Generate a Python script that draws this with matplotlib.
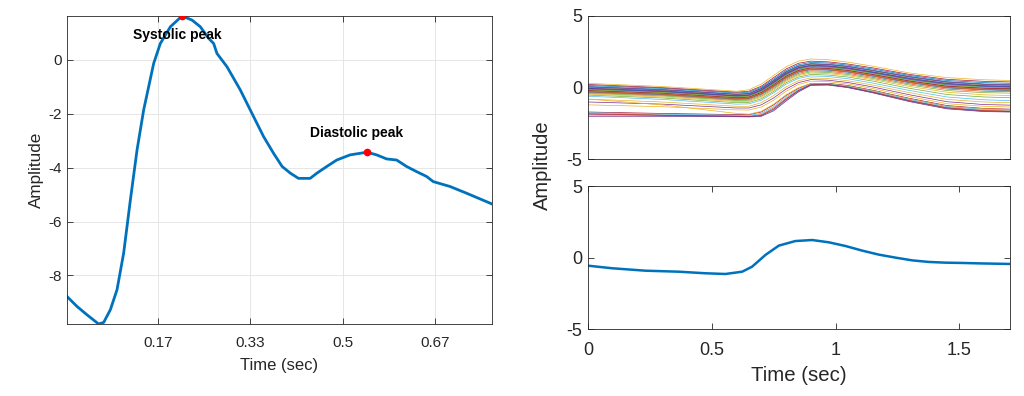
import matplotlib
matplotlib.use("Agg")
import matplotlib.pyplot as plt

plt.rcParams['font.family'] = ['Liberation Sans', 'DejaVu Sans']

# ---------------- Left panel: single pulse ----------------
pulse_t = [0.0025, 0.0206, 0.0386, 0.0596, 0.0687, 0.0807, 0.0927, 0.1047, 0.1168,
           0.1288, 0.1408, 0.1588, 0.1708, 0.1889, 0.2099, 0.2279, 0.2430, 0.2580,
           0.2670, 0.2730, 0.2910, 0.3150, 0.3390, 0.3570, 0.3750, 0.3905, 0.4055,
           0.4200, 0.4410, 0.4530, 0.4710, 0.4890, 0.5130, 0.5436, 0.5610, 0.5790,
           0.5970, 0.6150, 0.6330, 0.6510, 0.6630, 0.6930, 0.7230, 0.7690]
pulse_y = [-8.78, -9.15, -9.46, -9.80, -9.74, -9.27, -8.53, -7.17, -5.20,
           -3.35, -1.86, -0.14, 0.60, 1.22, 1.62, 1.47, 1.22, 0.79,
           0.60, 0.23, -0.26, -1.12, -2.11, -2.85, -3.47, -3.96, -4.21,
           -4.40, -4.40, -4.21, -3.96, -3.72, -3.53, -3.43, -3.53, -3.68,
           -3.72, -3.96, -4.15, -4.33, -4.52, -4.70, -4.95, -5.35]
peak_t = [0.2099, 0.5436]
peak_y = [1.62, -3.43]
peak_labels = ["Systolic peak", "Diastolic peak"]
label_t = [0.2015, 0.5256]
label_y = [0.91, -2.73]
left_xticks = [1/6, 2/6, 3/6, 4/6]
left_xticklabels = ["0.17", "0.33", "0.5", "0.67"]
left_yticks = [-8, -6, -4, -2, 0]

# ---------------- Right top: ensemble of pulses ----------------
knot_t = [0, 0.3, 0.6, 0.65, 0.7, 0.75, 0.8, 0.85, 0.9, 0.97, 1.05, 1.15, 1.3, 1.45, 1.6, 1.705]
pulse_Uh = [-0.12, -0.30, -0.62, -0.58, -0.25, 0.30, 0.90, 1.30, 1.47, 1.43, 1.30, 1.02, 0.56, 0.20, 0.06, 0.02]
pulse_Lc = [-1.80, -1.90, -1.97, -1.99, -1.88, -1.42, -0.75, -0.18, 0.22, 0.24, 0.06, -0.28, -0.88, -1.38, -1.58, -1.62]
pulse_Ua = [0.30, 0.08, -0.25, -0.15, 0.25, 0.85, 1.45, 1.85, 2.00, 1.95, 1.78, 1.50, 1.02, 0.70, 0.55, 0.50]
pulse_Mb = [-1.00, -1.15, -1.42, -1.42, -1.20, -0.72, -0.10, 0.35, 0.56, 0.52, 0.36, 0.05, -0.50, -0.98, -1.18, -1.22]
pulse_Ue = [0.02, -0.18, -0.50, -0.45, -0.10, 0.45, 1.05, 1.45, 1.62, 1.58, 1.44, 1.16, 0.72, 0.36, 0.20, 0.15]
pulse_Uk = [-0.22, -0.40, -0.72, -0.68, -0.36, 0.18, 0.78, 1.18, 1.36, 1.32, 1.18, 0.90, 0.44, 0.08, -0.06, -0.10]
pulse_La = [-1.70, -1.80, -1.88, -1.88, -1.70, -1.20, -0.55, -0.05, 0.28, 0.30, 0.15, -0.18, -0.75, -1.25, -1.45, -1.50]
pulse_Uc = [0.15, -0.05, -0.38, -0.32, 0.02, 0.60, 1.20, 1.60, 1.76, 1.72, 1.57, 1.30, 0.85, 0.50, 0.35, 0.30]
pulse_Un = [-0.35, -0.53, -0.85, -0.82, -0.52, 0.00, 0.60, 1.00, 1.18, 1.14, 1.00, 0.72, 0.26, -0.10, -0.25, -0.28]
pulse_Md = [-0.80, -1.20, -1.80, -1.85, -1.65, -1.15, -0.50, 0.00, 0.28, 0.26, 0.10, -0.22, -0.80, -1.30, -1.48, -1.52]
pulse_Ug = [-0.08, -0.27, -0.58, -0.54, -0.20, 0.35, 0.95, 1.35, 1.52, 1.48, 1.34, 1.06, 0.60, 0.25, 0.10, 0.05]
pulse_Uq = [-0.52, -0.72, -1.05, -1.03, -0.78, -0.26, 0.34, 0.74, 0.92, 0.88, 0.74, 0.46, -0.05, -0.48, -0.65, -0.70]
pulse_Le = [-1.92, -1.97, -2.02, -2.03, -1.97, -1.56, -0.88, -0.26, 0.18, 0.20, 0.02, -0.34, -0.95, -1.45, -1.65, -1.68]
pulse_Ub = [0.22, 0.00, -0.32, -0.25, 0.10, 0.70, 1.30, 1.70, 1.85, 1.80, 1.65, 1.38, 0.92, 0.58, 0.44, 0.40]
pulse_Us = [-0.05, -0.25, -0.57, -0.52, -0.18, 0.38, 0.98, 1.38, 1.55, 1.51, 1.37, 1.08, 0.63, 0.28, 0.12, 0.08]
pulse_Uj = [-0.18, -0.37, -0.68, -0.64, -0.32, 0.22, 0.82, 1.22, 1.40, 1.36, 1.22, 0.94, 0.48, 0.12, -0.02, -0.06]
pulse_Ma = [-0.80, -1.00, -1.30, -1.30, -1.05, -0.55, 0.05, 0.48, 0.68, 0.64, 0.48, 0.18, -0.35, -0.82, -1.00, -1.05]
pulse_Uf = [-0.03, -0.22, -0.55, -0.50, -0.15, 0.40, 1.00, 1.40, 1.56, 1.52, 1.38, 1.10, 0.66, 0.30, 0.14, 0.10]
pulse_Uo = [-0.40, -0.58, -0.90, -0.88, -0.60, -0.08, 0.52, 0.92, 1.10, 1.06, 0.92, 0.64, 0.18, -0.20, -0.35, -0.38]
pulse_Lb = [-1.75, -1.85, -1.93, -1.94, -1.80, -1.32, -0.65, -0.12, 0.24, 0.26, 0.10, -0.24, -0.82, -1.32, -1.52, -1.56]
pulse_Ut = [-0.20, -0.38, -0.70, -0.66, -0.34, 0.20, 0.80, 1.20, 1.38, 1.34, 1.20, 0.92, 0.46, 0.10, -0.04, -0.08]
pulse_Ud = [0.08, -0.12, -0.45, -0.40, -0.05, 0.52, 1.12, 1.52, 1.68, 1.64, 1.50, 1.22, 0.78, 0.42, 0.26, 0.22]
pulse_Ul = [-0.26, -0.44, -0.75, -0.72, -0.40, 0.14, 0.74, 1.14, 1.32, 1.28, 1.14, 0.86, 0.40, 0.04, -0.10, -0.14]
pulse_Mc = [-1.20, -1.33, -1.55, -1.56, -1.35, -0.88, -0.25, 0.22, 0.45, 0.42, 0.26, -0.06, -0.62, -1.12, -1.30, -1.35]
pulse_Uu = [0.05, -0.15, -0.47, -0.42, -0.07, 0.48, 1.08, 1.48, 1.65, 1.61, 1.47, 1.19, 0.75, 0.39, 0.23, 0.18]
pulse_Ui = [-0.15, -0.34, -0.65, -0.60, -0.28, 0.26, 0.86, 1.26, 1.43, 1.40, 1.26, 0.98, 0.52, 0.16, 0.02, -0.02]
pulse_Ur = [-0.60, -0.82, -1.15, -1.13, -0.88, -0.36, 0.24, 0.64, 0.82, 0.78, 0.62, 0.32, -0.20, -0.65, -0.85, -0.90]
pulse_Ld = [-1.85, -1.93, -2.00, -2.02, -1.94, -1.50, -0.82, -0.22, 0.20, 0.22, 0.04, -0.32, -0.92, -1.42, -1.62, -1.66]
pulse_Um = [-0.30, -0.48, -0.80, -0.76, -0.45, 0.08, 0.68, 1.08, 1.26, 1.22, 1.08, 0.80, 0.34, -0.02, -0.16, -0.20]
pulse_Uv = [-0.28, -0.46, -0.78, -0.74, -0.42, 0.11, 0.71, 1.11, 1.29, 1.25, 1.11, 0.83, 0.37, 0.01, -0.13, -0.17]
pulse_Up = [-0.45, -0.65, -0.97, -0.95, -0.68, -0.16, 0.44, 0.84, 1.02, 0.98, 0.84, 0.56, 0.08, -0.32, -0.50, -0.55]
pulse_Lf = [-2.00, -2.00, -2.03, -2.04, -2.00, -1.62, -0.94, -0.30, 0.16, 0.18, 0.00, -0.36, -0.98, -1.48, -1.67, -1.70]
ensemble = [pulse_Uh, pulse_Lc, pulse_Ua, pulse_Mb, pulse_Ue, pulse_Uk, pulse_La, pulse_Uc,
            pulse_Un, pulse_Md, pulse_Ug, pulse_Uq, pulse_Le, pulse_Ub, pulse_Us, pulse_Uj,
            pulse_Ma, pulse_Uf, pulse_Uo, pulse_Lb, pulse_Ut, pulse_Ud, pulse_Ul, pulse_Mc,
            pulse_Uu, pulse_Ui, pulse_Ur, pulse_Ld, pulse_Um, pulse_Uv, pulse_Up, pulse_Lf]

# ---------------- Right bottom: mean pulse ----------------
mean_t = [0, 0.097, 0.232, 0.367, 0.474, 0.555, 0.623, 0.663, 0.717, 0.771, 0.838,
          0.906, 0.973, 1.041, 1.108, 1.175, 1.243, 1.31, 1.377, 1.445, 1.512, 1.58, 1.705]
mean_y = [-0.56, -0.74, -0.91, -0.98, -1.09, -1.14, -0.98, -0.63, 0.19, 0.84, 1.16,
          1.23, 1.07, 0.81, 0.49, 0.21, 0.0, -0.19, -0.30, -0.35, -0.37, -0.40, -0.44]
right_xticks = [0, 0.5, 1, 1.5]
right_xticklabels = ["0", "0.5", "1", "1.5"]
right_yticks = [-5, 0, 5]

matlab_colors = ['#0072BD', '#D95319', '#EDB120', '#7E2F8E', '#77AC30', '#4DBEEE', '#A2142F']
line_blue = '#0072BD'
txt = '#262626'

W, H = 1024, 396
fig = plt.figure(figsize=(W / 100, H / 100), dpi=100)


def style_axes(ax, fs, xpad, ypad):
    for s in ax.spines.values():
        s.set_color('#262626')
        s.set_linewidth(0.6)
    ax.tick_params(direction='in', length=4, width=0.6, colors=txt,
                   labelsize=fs, top=True, right=True, labelcolor=txt)
    ax.tick_params(axis='x', pad=xpad)
    ax.tick_params(axis='y', pad=ypad)


# Left
axL = fig.add_axes([67 / W, 1 - 324 / H, (492 - 67) / W, (324 - 16) / H])
axL.plot(pulse_t, pulse_y, color=line_blue, lw=2.0)
axL.plot(peak_t, peak_y, 'o', color='#FF0000', ms=4.5, zorder=5)
for lt, ly, lab in zip(label_t, label_y, peak_labels):
    axL.text(lt, ly, lab, ha='center', va='center', fontsize=10, fontweight='bold', color='black')
axL.set_xlim(0.0025, 0.7690)
axL.set_ylim(-9.80, 1.62)
axL.set_xticks(left_xticks)
axL.set_xticklabels(left_xticklabels)
axL.set_yticks(left_yticks)
axL.set_yticklabels([str(v) for v in left_yticks])
axL.grid(True, color='#E6E6E6', lw=0.7)
axL.set_axisbelow(True)
style_axes(axL, 11, 8.5, 4)
axL.set_xlabel("Time (sec)", fontsize=12, color=txt, labelpad=6)
axL.set_ylabel("Amplitude", fontsize=12.3, color=txt, labelpad=3)

# Right top
axT = fig.add_axes([588 / W, 1 - 159.3 / H, (1010 - 588) / W, 143.3 / H])
for i, ys in enumerate(ensemble):
    axT.plot(knot_t, ys, color=matlab_colors[i % len(matlab_colors)], lw=0.5)
axT.set_xlim(0, 1.705)
axT.set_ylim(-5, 5)
axT.set_xticks([])
axT.set_yticks(right_yticks)
axT.set_yticklabels([str(v) for v in right_yticks])
style_axes(axT, 13, 9, 4)

# Right bottom
axB = fig.add_axes([588 / W, 1 - 329.3 / H, (1010 - 588) / W, 143.3 / H])
axB.plot(mean_t, mean_y, color=line_blue, lw=1.8)
axB.set_xlim(0, 1.705)
axB.set_ylim(-5, 5)
axB.set_xticks(right_xticks)
axB.set_xticklabels(right_xticklabels)
axB.set_yticks(right_yticks)
axB.set_yticklabels([str(v) for v in right_yticks])
style_axes(axB, 13, 9, 4)
axB.set_xlabel("Time (sec)", fontsize=14.7, color=txt, labelpad=5)

fig.text(542 / W, 1 - 165 / H, "Amplitude", rotation=90, ha='center', va='center',
         fontsize=14.5, color=txt)

fig.savefig("out.png", dpi=100, facecolor='white')
